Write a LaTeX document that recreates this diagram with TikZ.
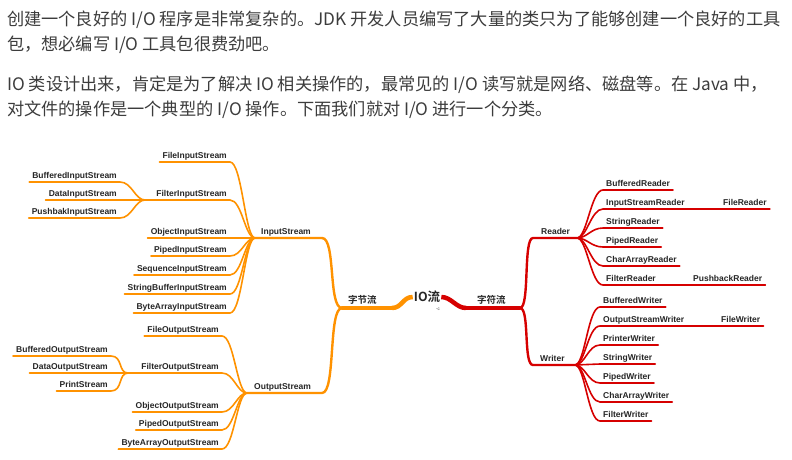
\documentclass[tikz,border=0pt]{standalone}
\usepackage{fontspec}
\setmainfont{Liberation Sans}
\newfontfamily\cjk{Noto Sans CJK SC}[BoldFont={Noto Sans CJK SC Bold}]
\usetikzlibrary{positioning}
\definecolor{bytecolor}{HTML}{FF9200}
\definecolor{charcolor}{HTML}{D60000}
\definecolor{prosecolor}{HTML}{3C3C3C}
\tikzset{
  leaf/.style={font=\bfseries\fontsize{8.5}{9}\selectfont, text=black!85, inner xsep=3pt, inner ysep=2.2pt, text height=6.2pt, text depth=1.6pt},
  cjklabel/.style={font=\cjk\bfseries\fontsize{9.5}{10}\selectfont, text=black!85, inner xsep=2pt, inner ysep=2.5pt, text height=7pt, text depth=1.5pt},
  twig/.style={line width=1.6pt, line cap=round},
  bough/.style={line width=2.4pt, line cap=round},
  trunk/.style={line width=3.2pt, line cap=round},
  prose/.style={font=\cjk\fontsize{17.2}{20}\selectfont, text=prosecolor, anchor=west, inner sep=0pt}
}

\begin{document}
\begin{tikzpicture}[x=1pt, y=-1pt]
        \useasboundingbox (0,0) rectangle (792,460);

        % Intro text
        \node[prose] (line1) at (7,20) {创建一个良好的 I/O 程序是非常复杂的。JDK 开发人员编写了大量的类只为了能够创建一个良好的工具};
        \node[prose] (line2) at (7,45) {包，想必编写 I/O 工具包很费劲吧。};
        \node[prose] (line3) at (7,85) {IO 类设计出来，肯定是为了解决 IO 相关操作的，最常见的 I/O 读写就是网络、磁盘等。在 Java 中，};
        \node[prose] (line4) at (7,110) {对文件的操作是一个典型的 I/O 操作。下面我们就对 I/O 进行一个分类。};

        % Root
        \node[font=\cjk\bfseries\fontsize{12.5}{14}\selectfont, text=black!85, inner sep=1pt] (root) at (427,297) {IO流};
        \node[font=\fontsize{4.5}{5}\selectfont, text=black!75, inner sep=0pt] (rootmark) at (438,309) {-c};

        % Byte streams
        \coordinate (byteEnd) at (392,308);
        \coordinate (hubByte) at (342,308);
        \node[cjklabel, anchor=south west] (byteS) at (346,308) {字节流};
        \draw[line width=4.5pt, bytecolor] (root.west) .. controls +(-10,0) and +(10,0) .. (byteEnd);
        \draw[trunk, bytecolor] (byteEnd) -- (hubByte);

        % InputStream
        \coordinate (hubIn) at (255,238);
        \coordinate (inEnd) at (322,238);
        \node[leaf, anchor=south west] (inS) at (258,238) {InputStream};
        \draw[bough, bytecolor] (hubByte) .. controls +(-14,0) and +(14,0) .. (inEnd) -- (hubIn);

        \node[leaf, anchor=south east] (fileIn) at (230,162) {FileInputStream};
        \node[leaf, anchor=south east] (filterIn) at (230,200) {FilterInputStream};
        \node[leaf, anchor=south east] (objectIn) at (230,238) {ObjectInputStream};
        \node[leaf, anchor=south east] (pipedIn) at (230,256) {PipedInputStream};
        \node[leaf, anchor=south east] (sequenceIn) at (230,275) {SequenceInputStream};
        \node[leaf, anchor=south east] (stringBufIn) at (230,294) {StringBufferInputStream};
        \node[leaf, anchor=south east] (byteArrIn) at (230,313) {ByteArrayInputStream};
        \draw[twig, bytecolor] (hubIn) .. controls +(-10,0) and +(12,0) .. (fileIn.south east) -- (fileIn.south west);
        \draw[twig, bytecolor] (hubIn) .. controls +(-10,0) and +(12,0) .. (filterIn.south east) -- (filterIn.south west);
        \draw[twig, bytecolor] (hubIn) -- (objectIn.south east) -- (objectIn.south west);
        \draw[twig, bytecolor] (hubIn) .. controls +(-10,0) and +(12,0) .. (pipedIn.south east) -- (pipedIn.south west);
        \draw[twig, bytecolor] (hubIn) .. controls +(-10,0) and +(12,0) .. (sequenceIn.south east) -- (sequenceIn.south west);
        \draw[twig, bytecolor] (hubIn) .. controls +(-10,0) and +(12,0) .. (stringBufIn.south east) -- (stringBufIn.south west);
        \draw[twig, bytecolor] (hubIn) .. controls +(-10,0) and +(12,0) .. (byteArrIn.south east) -- (byteArrIn.south west);

        % FilterInputStream children
        \coordinate (hubFilterIn) at (145,200);
        \draw[twig, bytecolor] (filterIn.south west) -- (hubFilterIn);
        \node[leaf, anchor=south east] (bufferedIn) at (120,182) {BufferedInputStream};
        \node[leaf, anchor=south east] (dataIn) at (120,200) {DataInputStream};
        \node[leaf, anchor=south east] (pushbakIn) at (120,218) {PushbakInputStream};
        \draw[twig, bytecolor] (hubFilterIn) .. controls +(-10,0) and +(12,0) .. (bufferedIn.south east) -- (bufferedIn.south west);
        \draw[twig, bytecolor] (hubFilterIn) -- (dataIn.south east) -- (dataIn.south west);
        \draw[twig, bytecolor] (hubFilterIn) .. controls +(-10,0) and +(12,0) .. (pushbakIn.south east) -- (pushbakIn.south west);

        % OutputStream
        \coordinate (hubOut) at (247,393);
        \coordinate (outEnd) at (322,393);
        \node[leaf, anchor=south west] (outS) at (251,393) {OutputStream};
        \draw[bough, bytecolor] (hubByte) .. controls +(-14,0) and +(14,0) .. (outEnd) -- (hubOut);

        \node[leaf, anchor=south east] (fileOut) at (222,336) {FileOutputStream};
        \node[leaf, anchor=south east] (filterOut) at (222,373) {FilterOutputStream};
        \node[leaf, anchor=south east] (objectOut) at (222,412) {ObjectOutputStream};
        \node[leaf, anchor=south east] (pipedOut) at (222,430) {PipedOutputStream};
        \node[leaf, anchor=south east] (byteArrOut) at (222,449) {ByteArrayOutputStream};
        \draw[twig, bytecolor] (hubOut) .. controls +(-10,0) and +(12,0) .. (fileOut.south east) -- (fileOut.south west);
        \draw[twig, bytecolor] (hubOut) .. controls +(-10,0) and +(12,0) .. (filterOut.south east) -- (filterOut.south west);
        \draw[twig, bytecolor] (hubOut) .. controls +(-10,0) and +(12,0) .. (objectOut.south east) -- (objectOut.south west);
        \draw[twig, bytecolor] (hubOut) .. controls +(-10,0) and +(12,0) .. (pipedOut.south east) -- (pipedOut.south west);
        \draw[twig, bytecolor] (hubOut) .. controls +(-10,0) and +(12,0) .. (byteArrOut.south east) -- (byteArrOut.south west);

        % FilterOutputStream children
        \coordinate (hubFilterOut) at (128,373);
        \draw[twig, bytecolor] (filterOut.south west) -- (hubFilterOut);
        \node[leaf, anchor=south east] (bufferedOut) at (111,356) {BufferedOutputStream};
        \node[leaf, anchor=south east] (dataOut) at (111,373) {DataOutputStream};
        \node[leaf, anchor=south east] (printOut) at (111,391) {PrintStream};
        \draw[twig, bytecolor] (hubFilterOut) .. controls +(-10,0) and +(12,0) .. (bufferedOut.south east) -- (bufferedOut.south west);
        \draw[twig, bytecolor] (hubFilterOut) -- (dataOut.south east) -- (dataOut.south west);
        \draw[twig, bytecolor] (hubFilterOut) .. controls +(-10,0) and +(12,0) .. (printOut.south east) -- (printOut.south west);

        % Character streams
        \coordinate (charEnd) at (466,308);
        \coordinate (hubChar) at (520,308);
        \node[cjklabel, anchor=south west] (charS) at (475,308) {字符流};
        \draw[line width=4.5pt, charcolor] (root.east) .. controls +(10,0) and +(-10,0) .. (charEnd);
        \draw[trunk, charcolor] (charEnd) -- (hubChar);

        % Reader
        \coordinate (readStart) at (533,238);
        \coordinate (hubReader) at (577,238);
        \node[leaf, anchor=south west] (readS) at (538,238) {Reader};
        \draw[bough, charcolor] (hubChar) .. controls +(10,0) and +(-10,0) .. (readStart) -- (hubReader);

        \node[leaf, anchor=south west] (bufferedRd) at (603,190) {BufferedReader};
        \node[leaf, anchor=south west] (inStreamRd) at (603,209) {InputStreamReader};
        \node[leaf, anchor=south west] (stringRd) at (603,228) {StringReader};
        \node[leaf, anchor=south west] (pipedRd) at (603,247) {PipedReader};
        \node[leaf, anchor=south west] (charArrRd) at (603,266) {CharArrayReader};
        \node[leaf, anchor=south west] (filterRd) at (603,285) {FilterReader};
        \node[leaf, anchor=south west] (fileRd) at (720,209) {FileReader};
        \node[leaf, anchor=south west] (pushbackRd) at (690,285) {PushbackReader};
        \draw[twig, charcolor] (hubReader) .. controls +(10,0) and +(-12,0) .. (bufferedRd.south west) -- (bufferedRd.south east);
        \draw[twig, charcolor] (hubReader) .. controls +(10,0) and +(-12,0) .. (inStreamRd.south west) -- (inStreamRd.south east);
        \draw[twig, charcolor] (hubReader) .. controls +(10,0) and +(-12,0) .. (stringRd.south west) -- (stringRd.south east);
        \draw[twig, charcolor] (hubReader) .. controls +(10,0) and +(-12,0) .. (pipedRd.south west) -- (pipedRd.south east);
        \draw[twig, charcolor] (hubReader) .. controls +(10,0) and +(-12,0) .. (charArrRd.south west) -- (charArrRd.south east);
        \draw[twig, charcolor] (hubReader) .. controls +(10,0) and +(-12,0) .. (filterRd.south west) -- (filterRd.south east);
        \draw[line width=1.1pt, charcolor] (inStreamRd.south east) -- (fileRd.south west);
        \draw[twig, charcolor] (fileRd.south west) -- (fileRd.south east);
        \draw[line width=1.1pt, charcolor] (filterRd.south east) -- (pushbackRd.south west);
        \draw[twig, charcolor] (pushbackRd.south west) -- (pushbackRd.south east);

        % Writer
        \coordinate (writeStart) at (533,365);
        \coordinate (hubWriter) at (575,365);
        \node[leaf, anchor=south west] (writeS) at (537,365) {Writer};
        \draw[bough, charcolor] (hubChar) .. controls +(10,0) and +(-10,0) .. (writeStart) -- (hubWriter);

        \node[leaf, anchor=south west] (bufferedWr) at (600,307) {BufferedWriter};
        \node[leaf, anchor=south west] (outStreamWr) at (600,326) {OutputStreamWriter};
        \node[leaf, anchor=south west] (printerWr) at (600,345) {PrinterWriter};
        \node[leaf, anchor=south west] (stringWr) at (600,364) {StringWriter};
        \node[leaf, anchor=south west] (pipedWr) at (600,383) {PipedWriter};
        \node[leaf, anchor=south west] (charArrWr) at (600,402) {CharArrayWriter};
        \node[leaf, anchor=south west] (filterWr) at (600,421) {FilterWriter};
        \node[leaf, anchor=south west] (fileWr) at (718,326) {FileWriter};
        \draw[twig, charcolor] (hubWriter) .. controls +(10,0) and +(-12,0) .. (bufferedWr.south west) -- (bufferedWr.south east);
        \draw[twig, charcolor] (hubWriter) .. controls +(10,0) and +(-12,0) .. (outStreamWr.south west) -- (outStreamWr.south east);
        \draw[twig, charcolor] (hubWriter) .. controls +(10,0) and +(-12,0) .. (printerWr.south west) -- (printerWr.south east);
        \draw[twig, charcolor] (hubWriter) -- (stringWr.south west) -- (stringWr.south east);
        \draw[twig, charcolor] (hubWriter) .. controls +(10,0) and +(-12,0) .. (pipedWr.south west) -- (pipedWr.south east);
        \draw[twig, charcolor] (hubWriter) .. controls +(10,0) and +(-12,0) .. (charArrWr.south west) -- (charArrWr.south east);
        \draw[twig, charcolor] (hubWriter) .. controls +(10,0) and +(-12,0) .. (filterWr.south west) -- (filterWr.south east);
        \draw[line width=1.1pt, charcolor] (outStreamWr.south east) -- (fileWr.south west);
        \draw[twig, charcolor] (fileWr.south west) -- (fileWr.south east);
    \end{tikzpicture}
\end{document}
